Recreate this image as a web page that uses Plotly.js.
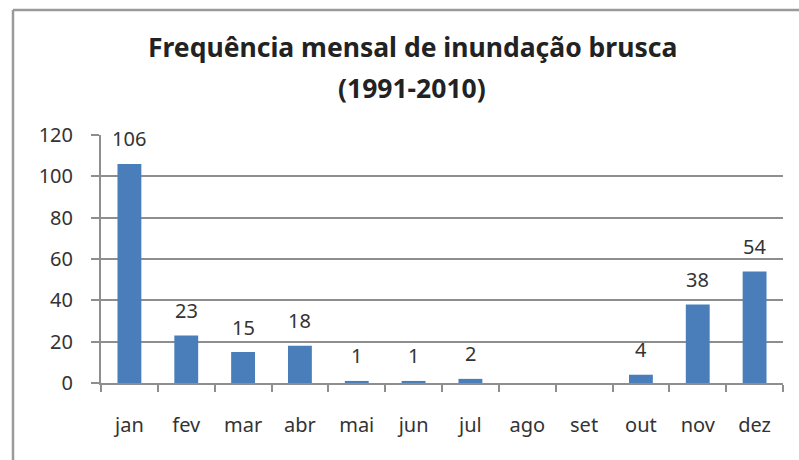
<!DOCTYPE html>
<html>
<head>
<meta charset="utf-8">
<script src="https://cdn.plot.ly/plotly-3.0.1.min.js"></script>
<style>
html,body{margin:0;padding:0;background:#fff;}
#chart{width:799px;height:460px;}
</style>
</head>
<body>
<div id="chart"></div>
<script>
var months = ['jan','fev','mar','abr','mai','jun','jul','ago','set','out','nov','dez'];
var counts = [106, 23, 15, 18, 1, 1, 2, 0, 0, 4, 38, 54];
var yTicks = [0, 20, 40, 60, 80, 100, 120];
var titleLine1 = 'Frequência mensal de inundação brusca';
var titleLine2 = '(1991-2010)';

var fontFam = 'Noto Sans, Open Sans, sans-serif';
var textCol = '#333333';
var gridCol = '#8e8e8e';

var trace = {
  type: 'bar',
  x: months,
  y: counts,
  marker: {color: '#4A7EBB', line: {width: 0}},
  hoverinfo: 'x+y'
};

var titleX = (412 - 101) / 682;
var annots = [
  {xref: 'paper', yref: 'paper', x: titleX, y: (383 - 47) / 248, xanchor: 'center', yanchor: 'middle',
   text: '<b>' + titleLine1 + '</b>', showarrow: false,
   font: {family: fontFam, size: 26.5, color: '#222'}},
  {xref: 'paper', yref: 'paper', x: titleX, y: (383 - 88) / 248, xanchor: 'center', yanchor: 'middle',
   text: '<b>' + titleLine2 + '</b>', showarrow: false,
   font: {family: fontFam, size: 26.5, color: '#222'}}
];
months.forEach(function(m, i){
  if (counts[i] > 0) {
    annots.push({xref: 'x', yref: 'y', x: m, y: counts[i], text: String(counts[i]),
      showarrow: false, xanchor: 'center', yanchor: 'middle', yshift: 25,
      font: {family: fontFam, size: 20, color: textCol}});
  }
});

var layout = {
  width: 799, height: 460,
  margin: {l: 101, r: 16, t: 135, b: 77},
  paper_bgcolor: '#fff', plot_bgcolor: '#fff',
  showlegend: false,
  bargap: 0.58,
  font: {family: fontFam, color: textCol},
  xaxis: {
    type: 'category',
    tickson: 'boundaries',
    ticks: 'outside', ticklen: 7, tickcolor: gridCol, tickwidth: 2,
    showline: true, linecolor: gridCol, linewidth: 2,
    showgrid: false,
    tickfont: {family: fontFam, size: 20, color: textCol},
    ticklabelstandoff: 23
  },
  yaxis: {
    range: [0, 120],
    tickvals: yTicks,
    ticktext: yTicks.map(String),
    ticks: 'outside', ticklen: 8, tickcolor: gridCol, tickwidth: 2,
    showline: true, linecolor: gridCol, linewidth: 2,
    showgrid: true, gridcolor: gridCol, gridwidth: 2,
    zeroline: false,
    tickfont: {family: fontFam, size: 20, color: textCol},
    ticklabelstandoff: 14
  },
  annotations: annots,
  shapes: [
    {type: 'line', xref: 'paper', yref: 'paper',
     x0: (13 - 101) / 682, x1: (800 - 101) / 682, y0: (383 - 10) / 248, y1: (383 - 10) / 248,
     line: {color: '#9a9a9a', width: 2.5}},
    {type: 'line', xref: 'paper', yref: 'paper',
     x0: (13 - 101) / 682, x1: (13 - 101) / 682, y0: (383 - 10) / 248, y1: (383 - 462) / 248,
     line: {color: '#9a9a9a', width: 2.5}}
  ]
};

Plotly.newPlot('chart', [trace], layout, {displayModeBar: false, staticPlot: true});
</script>
</body>
</html>
